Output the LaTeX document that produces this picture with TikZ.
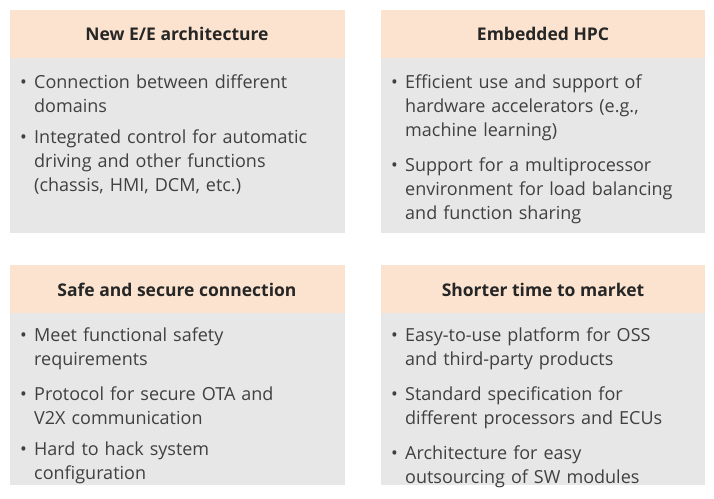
\documentclass[tikz,border=0pt]{standalone}
\usepackage{fontspec}
\setmainfont{Open Sans}
\definecolor{headfill}{HTML}{FBE3CF}
\definecolor{bodyfill}{HTML}{E8E7E7}
\definecolor{textgray}{HTML}{404040}
\newcommand{\bitem}[1]{\par\noindent\makebox[14pt][l]{\textbullet}\parbox[t]{310pt}{\raggedright #1}\par\vspace{16pt}}
\tikzset{
  head/.style={fill=headfill, draw=none, inner sep=0pt, font=\fontsize{17.5}{21}\selectfont\bfseries, text=black!85},
  points/.style={anchor=north west, inner sep=0pt, text width=330pt, text=textgray, font=\fontsize{18}{24}\selectfont}
}
\begin{document}
\begin{tikzpicture}[x=1pt,y=-1pt]
    \useasboundingbox (0,0) rectangle (714,498);

    % top left
    \fill[headfill] (10,10) rectangle (345,58);
    \fill[bodyfill] (10,58) rectangle (345,233);
    \node (EEhead) at (177,34) [head] {New E/E architecture};
    \node (EEtext) at (20,64) [points] {\bitem{Connection between different\\domains}\bitem{Integrated control for automatic\\driving and other functions\\(chassis, HMI, DCM, etc.)}};

    % top right
    \fill[headfill] (381,10) rectangle (705,58);
    \fill[bodyfill] (381,58) rectangle (705,233);
    \node (HPChead) at (543,34) [head] {Embedded HPC};
    \node (HPCtext) at (391,64) [points] {\bitem{Efficient use and support of\\hardware accelerators (e.g.,\\machine learning)}\bitem{Support for a multiprocessor\\environment for load balancing\\and function sharing}};

    % bottom left
    \fill[headfill] (10,265) rectangle (345,313);
    \fill[bodyfill] (10,313) rectangle (345,485);
    \node (SEChead) at (177,290) [head] {Safe and secure connection};
    \node (SECtext) at (20,317) [points] {\bitem{Meet functional safety\\requirements}\bitem{Protocol for secure OTA and\\V2X communication}\bitem{Hard to hack system\\configuration}};

    % bottom right
    \fill[headfill] (381,265) rectangle (705,313);
    \fill[bodyfill] (381,313) rectangle (705,485);
    \node (TTMhead) at (543,290) [head] {Shorter time to market};
    \node (TTMtext) at (391,317) [points] {\bitem{Easy-to-use platform for OSS\\and third-party products}\bitem{Standard specification for\\different processors and ECUs}\bitem{Architecture for easy\\outsourcing of SW modules}};
\end{tikzpicture}
\end{document}
